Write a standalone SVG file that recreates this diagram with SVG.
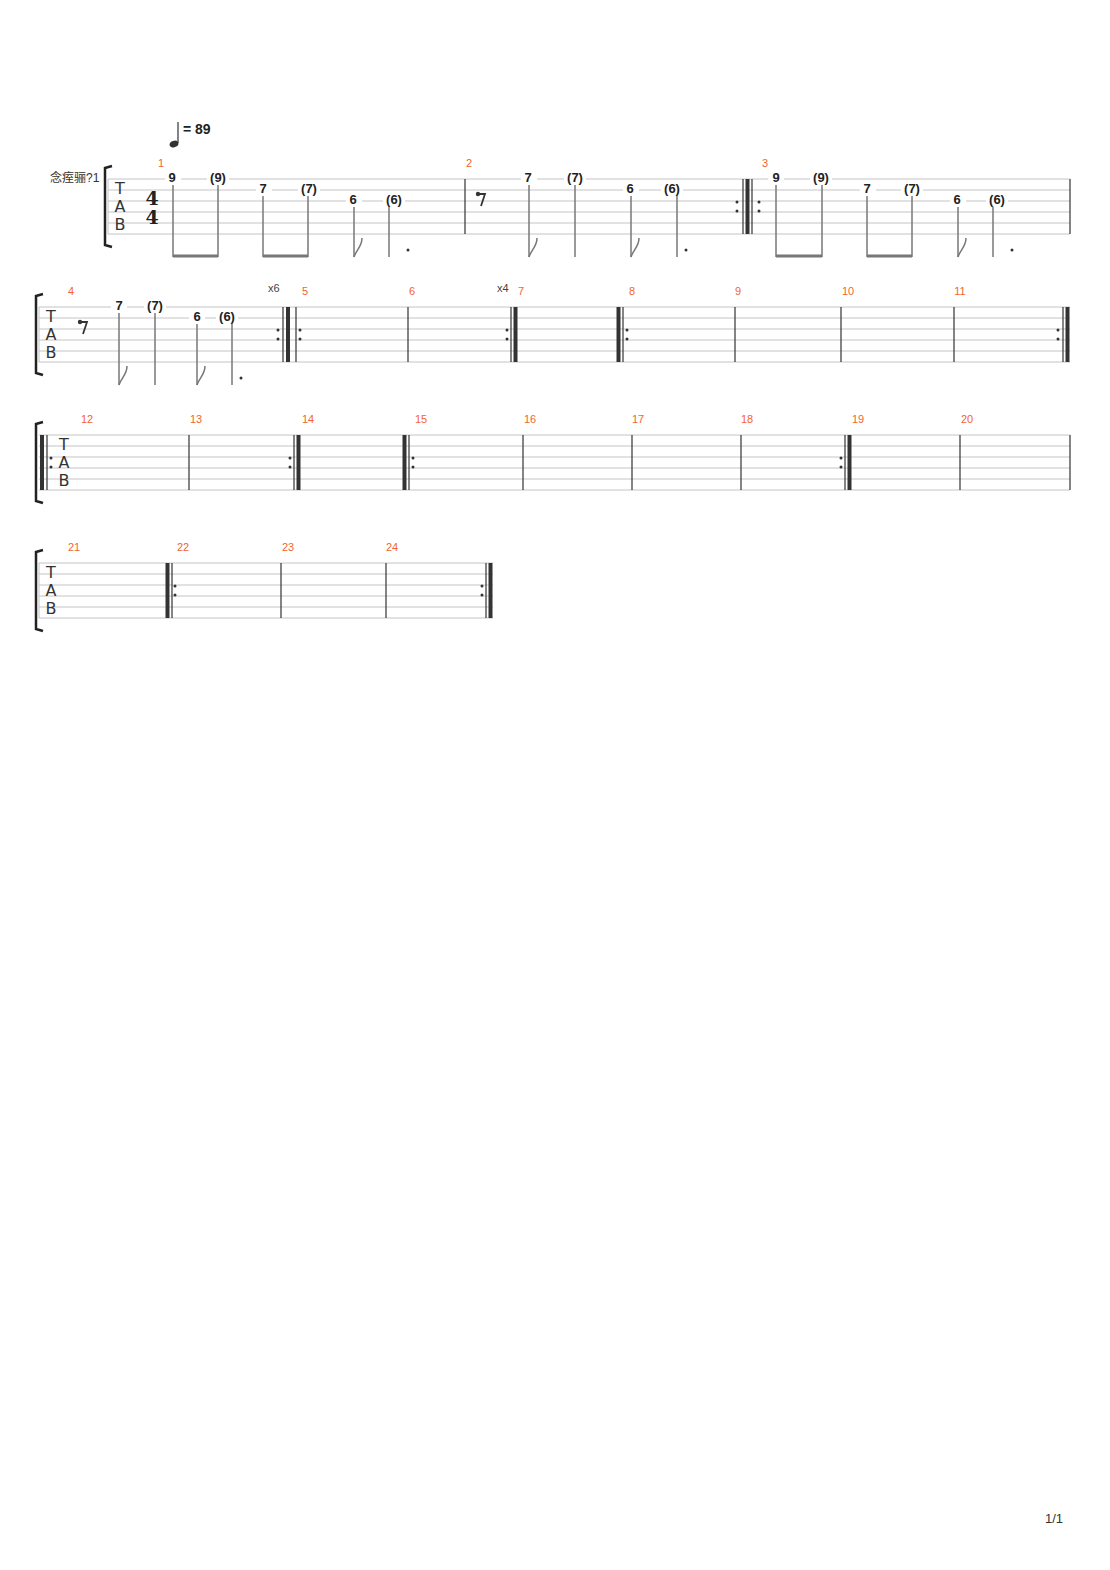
<svg xmlns="http://www.w3.org/2000/svg" width="1110" height="1570" viewBox="0 0 1110 1570">
<style>
.st{stroke:#c4c4c4;stroke-width:1}
.bl{stroke:#333;stroke-width:1.2}
.tk{stroke:#333;stroke-width:4}
.sm{stroke:#777;stroke-width:1.5;fill:none}
.bm{stroke:#777;stroke-width:3}
.fr{font-family:"Liberation Sans",sans-serif;font-size:13px;font-weight:bold;fill:#222;text-anchor:middle}
.mn{font-family:"Liberation Sans",sans-serif;font-size:11px;fill:#f26430;text-anchor:middle}
.tab{font-family:"DejaVu Sans",sans-serif;font-size:16px;fill:#333;text-anchor:middle}
.sm2{font-family:"Liberation Sans",sans-serif;font-size:11px;fill:#444}
.br{stroke:#222;stroke-width:2.5;fill:none}
.ts{font-family:"DejaVu Serif",serif;font-size:19px;font-weight:bold;fill:#222;text-anchor:middle}
</style>
<rect width="1110" height="1570" fill="#fff"/>
<g id="tempo">
<line x1="178" y1="122" x2="178" y2="143" stroke="#333" stroke-width="1.2"/>
<ellipse cx="174" cy="144" rx="4.5" ry="3.2" fill="#333" transform="rotate(-20 174 144)"/>
<text x="183" y="134" font-family="Liberation Sans,sans-serif" font-size="14" font-weight="bold" fill="#222">= 89</text>
</g>
<text x="50" y="182" font-family="Liberation Sans,'Noto Sans CJK SC',sans-serif" font-size="12" fill="#333">念痓骊?1</text>
<g id="staves">
<g class="st">
<line x1="108" y1="179" x2="1070" y2="179"/><line x1="108" y1="190" x2="1070" y2="190"/><line x1="108" y1="201" x2="1070" y2="201"/><line x1="108" y1="212" x2="1070" y2="212"/><line x1="108" y1="223" x2="1070" y2="223"/><line x1="108" y1="234" x2="1070" y2="234"/>
<line x1="39" y1="307" x2="1070" y2="307"/><line x1="39" y1="318" x2="1070" y2="318"/><line x1="39" y1="329" x2="1070" y2="329"/><line x1="39" y1="340" x2="1070" y2="340"/><line x1="39" y1="351" x2="1070" y2="351"/><line x1="39" y1="362" x2="1070" y2="362"/>
<line x1="39" y1="435" x2="1070" y2="435"/><line x1="39" y1="446" x2="1070" y2="446"/><line x1="39" y1="457" x2="1070" y2="457"/><line x1="39" y1="468" x2="1070" y2="468"/><line x1="39" y1="479" x2="1070" y2="479"/><line x1="39" y1="490" x2="1070" y2="490"/>
<line x1="39" y1="563" x2="493" y2="563"/><line x1="39" y1="574" x2="493" y2="574"/><line x1="39" y1="585" x2="493" y2="585"/><line x1="39" y1="596" x2="493" y2="596"/><line x1="39" y1="607" x2="493" y2="607"/><line x1="39" y1="618" x2="493" y2="618"/>
<line x1="108" y1="179" x2="108" y2="234"/><line x1="39" y1="307" x2="39" y2="362"/><line x1="39" y1="563" x2="39" y2="618"/>
</g>
<path class="br" d="M112,166 L105,168 L105,245 L112,247"/>
<path class="br" d="M43,294 L36,296 L36,373 L43,375"/>
<path class="br" d="M43,422 L36,424 L36,501 L43,503"/>
<path class="br" d="M43,550 L36,552 L36,629 L43,631"/>
<text class="tab" x="120" y="194">T</text><text class="tab" x="120" y="212">A</text><text class="tab" x="120" y="230">B</text>
<text class="tab" x="51" y="322">T</text><text class="tab" x="51" y="340">A</text><text class="tab" x="51" y="358">B</text>
<text class="tab" x="64" y="450">T</text><text class="tab" x="64" y="468">A</text><text class="tab" x="64" y="486">B</text>
<text class="tab" x="51" y="578">T</text><text class="tab" x="51" y="596">A</text><text class="tab" x="51" y="614">B</text>
<text class="ts" x="152" y="205">4</text>
<text class="ts" x="152" y="224">4</text>
</g>
<g id="barlines" fill="#333">
<line class="bl" x1="465" y1="179" x2="465" y2="234"/>
<line class="bl" x1="743" y1="179" x2="743" y2="234"/><line class="tk" x1="747.5" y1="179" x2="747.5" y2="234"/><line class="bl" x1="752" y1="179" x2="752" y2="234"/>
<circle cx="737" cy="202" r="1.5"/><circle cx="737" cy="211" r="1.5"/><circle cx="759" cy="202" r="1.5"/><circle cx="759" cy="211" r="1.5"/>
<line class="bl" x1="1070" y1="179" x2="1070" y2="234"/>
<line class="bl" x1="283" y1="307" x2="283" y2="362"/><line class="tk" x1="288" y1="307" x2="288" y2="362"/><line class="bl" x1="296" y1="307" x2="296" y2="362"/>
<circle cx="278" cy="330" r="1.5"/><circle cx="278" cy="339" r="1.5"/><circle cx="300" cy="330" r="1.5"/><circle cx="300" cy="339" r="1.5"/>
<line class="bl" x1="408" y1="307" x2="408" y2="362"/>
<line class="bl" x1="511" y1="307" x2="511" y2="362"/><line class="tk" x1="515.5" y1="307" x2="515.5" y2="362"/>
<circle cx="507" cy="330" r="1.5"/><circle cx="507" cy="339" r="1.5"/>
<line class="tk" x1="618.5" y1="307" x2="618.5" y2="362"/><line class="bl" x1="623" y1="307" x2="623" y2="362"/>
<circle cx="627" cy="330" r="1.5"/><circle cx="627" cy="339" r="1.5"/>
<line class="bl" x1="735" y1="307" x2="735" y2="362"/><line class="bl" x1="841" y1="307" x2="841" y2="362"/><line class="bl" x1="954" y1="307" x2="954" y2="362"/>
<line class="bl" x1="1063" y1="307" x2="1063" y2="362"/><line class="tk" x1="1067.5" y1="307" x2="1067.5" y2="362"/>
<circle cx="1058" cy="330" r="1.5"/><circle cx="1058" cy="339" r="1.5"/>
<line class="tk" x1="42" y1="435" x2="42" y2="490"/><line class="bl" x1="47" y1="435" x2="47" y2="490"/>
<circle cx="51" cy="458" r="1.5"/><circle cx="51" cy="467" r="1.5"/>
<line class="bl" x1="189" y1="435" x2="189" y2="490"/>
<line class="bl" x1="294" y1="435" x2="294" y2="490"/><line class="tk" x1="298.5" y1="435" x2="298.5" y2="490"/>
<circle cx="290" cy="458" r="1.5"/><circle cx="290" cy="467" r="1.5"/>
<line class="tk" x1="404.5" y1="435" x2="404.5" y2="490"/><line class="bl" x1="409" y1="435" x2="409" y2="490"/>
<circle cx="413" cy="458" r="1.5"/><circle cx="413" cy="467" r="1.5"/>
<line class="bl" x1="523" y1="435" x2="523" y2="490"/><line class="bl" x1="632" y1="435" x2="632" y2="490"/><line class="bl" x1="741" y1="435" x2="741" y2="490"/>
<line class="bl" x1="845" y1="435" x2="845" y2="490"/><line class="tk" x1="849.5" y1="435" x2="849.5" y2="490"/>
<circle cx="841" cy="458" r="1.5"/><circle cx="841" cy="467" r="1.5"/>
<line class="bl" x1="960" y1="435" x2="960" y2="490"/><line class="bl" x1="1070" y1="435" x2="1070" y2="490"/>
<line class="tk" x1="167.5" y1="563" x2="167.5" y2="618"/><line class="bl" x1="172" y1="563" x2="172" y2="618"/>
<circle cx="175" cy="586" r="1.5"/><circle cx="175" cy="595" r="1.5"/>
<line class="bl" x1="281" y1="563" x2="281" y2="618"/><line class="bl" x1="386" y1="563" x2="386" y2="618"/>
<line class="bl" x1="486" y1="563" x2="486" y2="618"/><line class="tk" x1="490.5" y1="563" x2="490.5" y2="618"/>
<circle cx="482" cy="586" r="1.5"/><circle cx="482" cy="595" r="1.5"/>
</g>
<g id="measure-numbers">
<text class="mn" x="161" y="167">1</text><text class="mn" x="469" y="167">2</text><text class="mn" x="765" y="167">3</text>
<text class="mn" x="71" y="295">4</text><text class="mn" x="305" y="295">5</text><text class="mn" x="412" y="295">6</text><text class="mn" x="521" y="295">7</text><text class="mn" x="632" y="295">8</text><text class="mn" x="738" y="295">9</text><text class="mn" x="848" y="295">10</text><text class="mn" x="960" y="295">11</text>
<text class="mn" x="87" y="423">12</text><text class="mn" x="196" y="423">13</text><text class="mn" x="308" y="423">14</text><text class="mn" x="421" y="423">15</text><text class="mn" x="530" y="423">16</text><text class="mn" x="638" y="423">17</text><text class="mn" x="747" y="423">18</text><text class="mn" x="858" y="423">19</text><text class="mn" x="967" y="423">20</text>
<text class="mn" x="74" y="551">21</text><text class="mn" x="183" y="551">22</text><text class="mn" x="288" y="551">23</text><text class="mn" x="392" y="551">24</text>
<text class="sm2" x="268" y="292">x6</text><text class="sm2" x="497" y="292">x4</text>
</g>
<g id="notes">
<g fill="#fff"><rect x="165" y="172" width="16" height="12"/><rect x="207" y="172" width="22" height="12"/><rect x="256" y="183" width="16" height="12"/><rect x="298" y="183" width="22" height="12"/><rect x="346" y="194" width="16" height="12"/><rect x="383" y="194" width="22" height="12"/>
<rect x="521" y="172" width="16" height="12"/><rect x="564" y="172" width="22" height="12"/><rect x="623" y="183" width="16" height="12"/><rect x="661" y="183" width="22" height="12"/>
<rect x="768" y="172" width="16" height="12"/><rect x="810" y="172" width="22" height="12"/><rect x="860" y="183" width="16" height="12"/><rect x="901" y="183" width="22" height="12"/><rect x="950" y="194" width="16" height="12"/><rect x="986" y="194" width="22" height="12"/>
<rect x="111" y="300" width="16" height="12"/><rect x="144" y="300" width="22" height="12"/><rect x="189" y="311" width="16" height="12"/><rect x="216" y="311" width="22" height="12"/></g>
<text class="fr" x="172" y="182">9</text><text class="fr" x="218" y="182">(9)</text><text class="fr" x="263" y="193">7</text><text class="fr" x="309" y="193">(7)</text><text class="fr" x="353" y="204">6</text><text class="fr" x="394" y="204">(6)</text>
<text class="fr" x="528" y="182">7</text><text class="fr" x="575" y="182">(7)</text><text class="fr" x="630" y="193">6</text><text class="fr" x="672" y="193">(6)</text>
<text class="fr" x="776" y="182">9</text><text class="fr" x="821" y="182">(9)</text><text class="fr" x="867" y="193">7</text><text class="fr" x="912" y="193">(7)</text><text class="fr" x="957" y="204">6</text><text class="fr" x="997" y="204">(6)</text>
<text class="fr" x="119" y="310">7</text><text class="fr" x="155" y="310">(7)</text><text class="fr" x="197" y="321">6</text><text class="fr" x="227" y="321">(6)</text>
</g>
<g id="stems">
<line class="sm" x1="173" y1="185" x2="173" y2="257"/><line class="sm" x1="218" y1="185" x2="218" y2="257"/><line class="bm" x1="173" y1="256" x2="218" y2="256"/>
<line class="sm" x1="263" y1="196" x2="263" y2="257"/><line class="sm" x1="308" y1="196" x2="308" y2="257"/><line class="bm" x1="263" y1="256" x2="308" y2="256"/>
<line class="sm" x1="354" y1="207" x2="354" y2="257"/><path class="sm" d="M354,257 C356,250 362,247 362,238"/>
<line class="sm" x1="389" y1="207" x2="389" y2="257"/><circle cx="408" cy="250" r="1.5" fill="#333"/>
<line class="sm" x1="529" y1="185" x2="529" y2="257"/><path class="sm" d="M529,257 C531,250 537,247 537,238"/>
<line class="sm" x1="575" y1="185" x2="575" y2="257"/>
<line class="sm" x1="631" y1="196" x2="631" y2="257"/><path class="sm" d="M631,257 C633,250 639,247 639,238"/>
<line class="sm" x1="677" y1="196" x2="677" y2="257"/><circle cx="686" cy="250" r="1.5" fill="#333"/>
<line class="sm" x1="776" y1="185" x2="776" y2="257"/><line class="sm" x1="822" y1="185" x2="822" y2="257"/><line class="bm" x1="776" y1="256" x2="822" y2="256"/>
<line class="sm" x1="867" y1="196" x2="867" y2="257"/><line class="sm" x1="912" y1="196" x2="912" y2="257"/><line class="bm" x1="867" y1="256" x2="912" y2="256"/>
<line class="sm" x1="958" y1="207" x2="958" y2="257"/><path class="sm" d="M958,257 C960,250 966,247 966,238"/>
<line class="sm" x1="993" y1="207" x2="993" y2="257"/><circle cx="1012" cy="250" r="1.5" fill="#333"/>
<line class="sm" x1="119" y1="313" x2="119" y2="385"/><path class="sm" d="M119,385 C121,378 127,375 127,366"/>
<line class="sm" x1="155" y1="313" x2="155" y2="385"/>
<line class="sm" x1="197" y1="324" x2="197" y2="385"/><path class="sm" d="M197,385 C199,378 205,375 205,366"/>
<line class="sm" x1="232" y1="324" x2="232" y2="385"/><circle cx="241" cy="378" r="1.5" fill="#333"/>
</g>
<g id="rests" fill="#333">
<circle cx="478" cy="194" r="2.2"/><path d="M478,194 L485,194 L481,206" stroke="#333" stroke-width="1.8" fill="none"/>
<circle cx="80" cy="322" r="2.2"/><path d="M80,322 L87,322 L83,334" stroke="#333" stroke-width="1.8" fill="none"/>
</g>
<text x="1045" y="1523" font-family="Liberation Sans,sans-serif" font-size="13" fill="#333">1/1</text>
</svg>
